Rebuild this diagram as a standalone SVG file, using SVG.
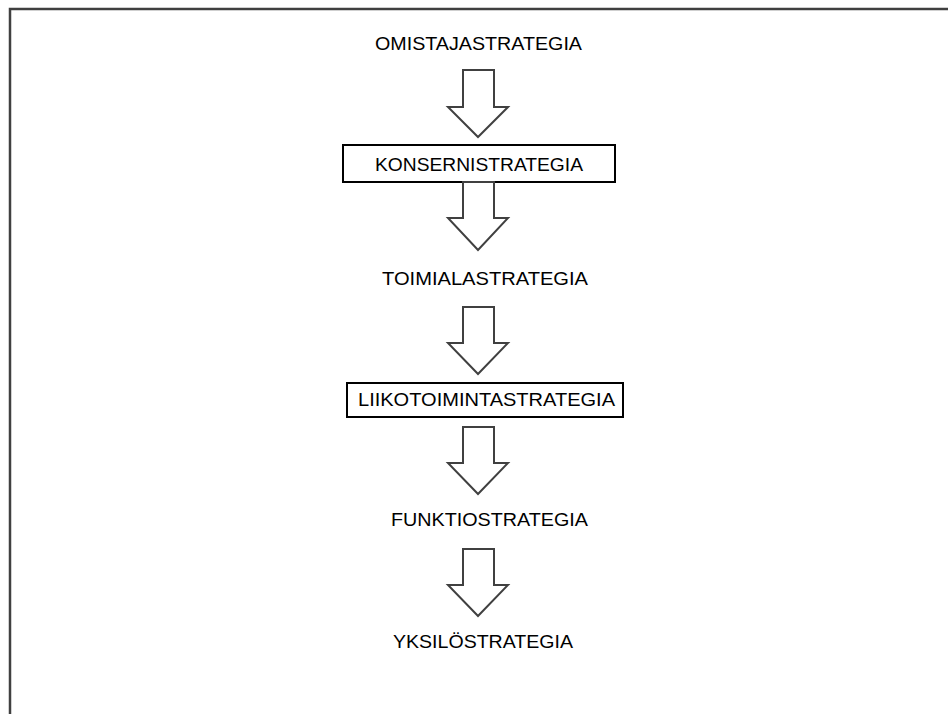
<svg xmlns="http://www.w3.org/2000/svg" width="948" height="714" viewBox="0 0 948 714">
<style>
.t{font-family:"Liberation Sans",Arial,sans-serif;font-size:19px;fill:#000}
.box{fill:#fff;stroke:#000;stroke-width:2}
.arr{fill:#fff;stroke:#404040;stroke-width:2;stroke-linejoin:miter}
</style>
<rect x="0" y="0" width="948" height="714" fill="#fff"/>
<rect x="10" y="9" width="950" height="720" fill="none" stroke="#404040" stroke-width="2.5"/>
<g id="n1"><text class="t" x="375" y="50" textLength="207" lengthAdjust="spacingAndGlyphs">OMISTAJASTRATEGIA</text></g>
<g id="n2"><rect class="box" x="343" y="145" width="272" height="37"/><text class="t" x="375" y="171" textLength="208" lengthAdjust="spacingAndGlyphs">KONSERNISTRATEGIA</text></g>
<g id="n3"><text class="t" x="382" y="285" textLength="206" lengthAdjust="spacingAndGlyphs">TOIMIALASTRATEGIA</text></g>
<g id="n4"><rect class="box" x="347" y="383" width="276" height="34"/><text class="t" x="358" y="406" textLength="257" lengthAdjust="spacingAndGlyphs">LIIKOTOIMINTASTRATEGIA</text></g>
<g id="n5"><text class="t" x="391" y="526" textLength="197" lengthAdjust="spacingAndGlyphs">FUNKTIOSTRATEGIA</text></g>
<g id="n6"><text class="t" x="393" y="648" textLength="180" lengthAdjust="spacingAndGlyphs">YKSILÖSTRATEGIA</text></g>
<g id="connectors">
<path class="arr" d="M463,70 H494 V107 H508 L478,137 L448,107 H463 Z"/>
<path class="arr" d="M463,182 H494 V218 H508 L478,250 L448,218 H463 Z"/>
<path class="arr" d="M463,307 H494 V343 H508 L478,374 L448,343 H463 Z"/>
<path class="arr" d="M463,427 H494 V463 H508 L478,494 L448,463 H463 Z"/>
<path class="arr" d="M463,549 H494 V585 H508 L478,616 L448,585 H463 Z"/>
</g>
</svg>
